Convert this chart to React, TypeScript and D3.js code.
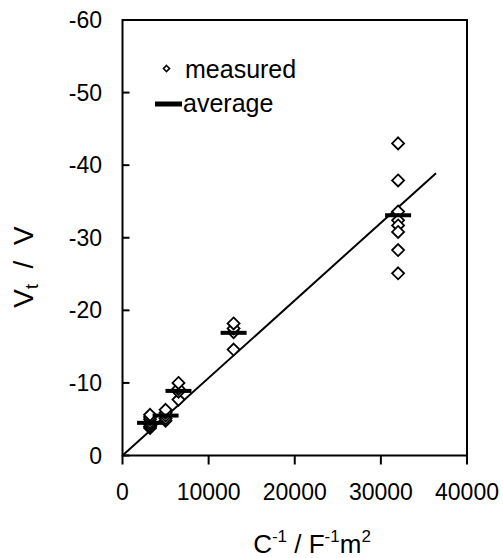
import React from "react";
import * as d3 from "d3";

const measuredC = [
  3200, 3200, 3200, 3200, 3200, 3200, 3200,
  5000, 5000, 5000, 5000, 5000,
  6500, 6500, 6500, 6500,
  12900, 12900, 12900, 12900,
  32000, 32000, 32000, 32000, 32000, 32000, 32000, 32000,
];
const measuredV = [
  -3.8, -4.0, -4.3, -4.6, -5.0, -5.3, -5.6,
  -4.8, -5.1, -5.5, -5.9, -6.3,
  -7.7, -8.8, -9.2, -10.0,
  -14.6, -17.0, -17.5, -18.2,
  -43.0, -37.9, -33.6, -32.4, -31.7, -30.8, -28.3, -25.1,
];
const averageC = [3200, 5000, 6500, 12900, 32000];
const averageV = [-4.5, -5.5, -8.9, -16.9, -33.1];
const fitC = [0, 36400];
const fitV = [0, -38.9];
const xTicks = [0, 10000, 20000, 30000, 40000];
const yTicks = [0, -10, -20, -30, -40, -50, -60];

const FONT = "'Liberation Sans', Arial, Helvetica, sans-serif";

export default function App() {
  const left = 122.5;
  const right = 467;
  const top = 20;
  const bottom = 455.5;
  const x = d3.scaleLinear().domain([0, 40000]).range([left, right]);
  const y = d3.scaleLinear().domain([0, -60]).range([bottom, top]);
  const line = d3
    .line<number>()
    .x((_, i) => x(fitC[i]))
    .y((d) => y(d));
  const diamond = (cx: number, cy: number, r: number) =>
    `M${cx},${cy - r}L${cx + r},${cy}L${cx},${cy + r}L${cx - r},${cy}Z`;

  return (
    <svg
      width={503}
      height={558}
      style={{ position: "absolute", left: 0, top: 0, background: "#fff" }}
      fontFamily={FONT}
    >
      <rect x={0} y={0} width={503} height={558} fill="#fff" />
      {/* fit line */}
      <path d={line(fitV) || ""} fill="none" stroke="#000" strokeWidth={2} />
      {/* measured */}
      {measuredC.map((c, i) => (
        <path
          key={"m" + i}
          d={diamond(x(c), y(measuredV[i]), 6)}
          fill="#fff"
          stroke="#000"
          strokeWidth={1.8}
        />
      ))}
      {/* averages */}
      {averageC.map((c, i) => (
        <line
          key={"a" + i}
          x1={x(c) - 13}
          x2={x(c) + 13}
          y1={y(averageV[i])}
          y2={y(averageV[i])}
          stroke="#000"
          strokeWidth={4}
        />
      ))}
      {/* frame */}
      <rect
        x={left}
        y={top}
        width={right - left}
        height={bottom - top}
        fill="none"
        stroke="#000"
        strokeWidth={2}
      />
      {/* x ticks */}
      {xTicks.map((t) => (
        <g key={"xt" + t}>
          <line x1={x(t)} x2={x(t)} y1={bottom} y2={bottom + 9} stroke="#000" strokeWidth={2} />
          <text x={x(t)} y={500} fontSize={23} textAnchor="middle" fill="#000">
            {t}
          </text>
        </g>
      ))}
      {/* y ticks */}
      {yTicks.map((t) => (
        <g key={"yt" + t}>
          <line x1={left} x2={left + 7} y1={y(t)} y2={y(t)} stroke="#000" strokeWidth={2} />
          <text
            x={102}
            y={y(t)}
            fontSize={23}
            textAnchor="end"
            dominantBaseline="central"
            fill="#000"
          >
            {t}
          </text>
        </g>
      ))}
      {/* x title */}
      <text x={312} y={553} fontSize={26} textAnchor="middle" fill="#000">
        C<tspan fontSize={17} dy={-11}>-1</tspan>
        <tspan dy={11}> / F</tspan>
        <tspan fontSize={17} dy={-11}>-1</tspan>
        <tspan dy={11}>m</tspan>
        <tspan fontSize={17} dy={-11}>2</tspan>
      </text>
      {/* y title */}
      <text
        transform="translate(33,267) rotate(-90)"
        fontSize={28}
        textAnchor="middle"
        fill="#000"
        style={{ whiteSpace: "pre" }}
      >
        V<tspan fontSize={18} dy={5}>t</tspan>
        <tspan dy={-5}>{"  /  V"}</tspan>
      </text>
      {/* legend */}
      <path d={diamond(166.5, 68.5, 3)} fill="#fff" stroke="#000" strokeWidth={1.6} />
      <text x={185} y={78} fontSize={25} fill="#000">
        measured
      </text>
      <line x1={155} x2={182} y1={104} y2={104} stroke="#000" strokeWidth={5} />
      <text x={183} y={112} fontSize={25} fill="#000">
        average
      </text>
    </svg>
  );
}
